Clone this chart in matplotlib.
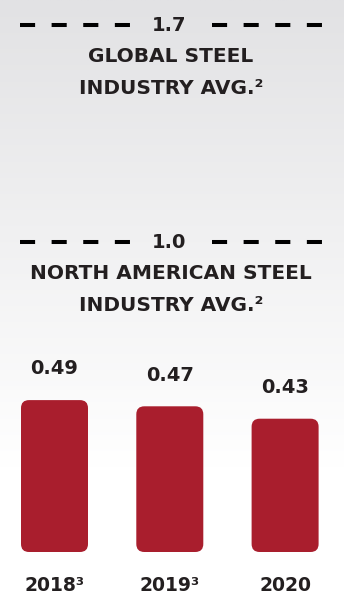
import numpy as np
import matplotlib
matplotlib.use("Agg")
import matplotlib.pyplot as plt
from matplotlib.patches import FancyBboxPatch
from matplotlib.transforms import blended_transform_factory

# Data
years = ["2018³", "2019³", "2020"]
values = [0.49, 0.47, 0.43]
value_labels = ["0.49", "0.47", "0.43"]
benchmarks = [1.7, 1.0]
benchmark_labels = ["1.7", "1.0"]
benchmark_names = [["GLOBAL STEEL", "INDUSTRY AVG.²"],
                   ["NORTH AMERICAN STEEL", "INDUSTRY AVG.²"]]

W, H = 344, 599
DPI = 100
BAR_RED = "#a91e2d"
INK = "#231f20"

fig = plt.figure(figsize=(W / DPI, H / DPI), dpi=DPI)
ax = fig.add_axes([0, 0, 1, 1])
ax.set_axis_off()

# scale: 310 px per unit, baseline 47 px above the bottom edge
px_per_unit = 310.0
base_px = 47.0
ax.set_ylim(-base_px / px_per_unit, (H - base_px) / px_per_unit)
step_px = 115.3
first_px = 54.5
ax.set_xlim(-first_px / step_px, (W - first_px) / step_px)

# background: light grey at the top fading to white
t = np.linspace(0, 1, 256)          # 0 = bottom, 1 = top
shade = np.clip((t - 0.22) / 0.78, 0, 1)
top = np.array([226, 226, 228]) / 255.0
rgb = np.ones(3)[None, :] * (1 - shade[:, None]) + top[None, :] * shade[:, None]
img = np.repeat(rgb[:, None, :], 2, axis=1)
ax.imshow(img, extent=[0, 1, 0, 1], transform=ax.transAxes, aspect="auto",
          zorder=0, origin="lower")

x = np.arange(len(years))
bars = ax.bar(x, values, width=67 / step_px, color=BAR_RED, zorder=2)

# replace the square bars with rounded ones of the same geometry
radius_px = 8.0
aspect = step_px / px_per_unit
for rect in bars.patches:
    x0, y0 = rect.get_x(), rect.get_y()
    w, h = rect.get_width(), rect.get_height()
    rect.set_visible(False)
    ax.add_patch(FancyBboxPatch(
        (x0, y0), w, h,
        boxstyle=f"round,pad=0,rounding_size={radius_px / step_px}",
        mutation_aspect=aspect, facecolor=BAR_RED, edgecolor="none", zorder=3))

font = dict(family="DejaVu Sans", fontweight="bold", color=INK)

for xi, v, lab in zip(x, values, value_labels):
    ax.annotate(lab, (xi, v), xytext=(0, 22.5), textcoords="offset points",
                ha="center", va="center", fontsize=14, **font)

for xi, yr in zip(x, years):
    ax.annotate(yr, (xi, 0), xytext=(0, -24), textcoords="offset points",
                ha="center", va="center", fontsize=13.5, **font)

# benchmark lines with their value in a gap at the centre
blend = blended_transform_factory(ax.transAxes, ax.transData)
for val, lab, name in zip(benchmarks, benchmark_labels, benchmark_names):
    for xs in ([20 / W, 131 / W], [212 / W, 325 / W]):
        ax.plot(xs, [val, val], transform=blend, color="black",
                linewidth=2.9, linestyle=(0, (3.75, 4.1)),
                solid_capstyle="butt", dash_capstyle="butt", zorder=2)
    ax.text(169 / W, val, lab, transform=blend, ha="center", va="center",
            fontsize=14, **font)
    for k, line in enumerate(name):
        ax.annotate(line, (171 / W, val), xycoords=blend,
                    xytext=(0, -22.5 - 23 * k), textcoords="offset points",
                    ha="center", va="center", fontsize=14.5, **font)

fig.savefig("out.png", dpi=DPI)
